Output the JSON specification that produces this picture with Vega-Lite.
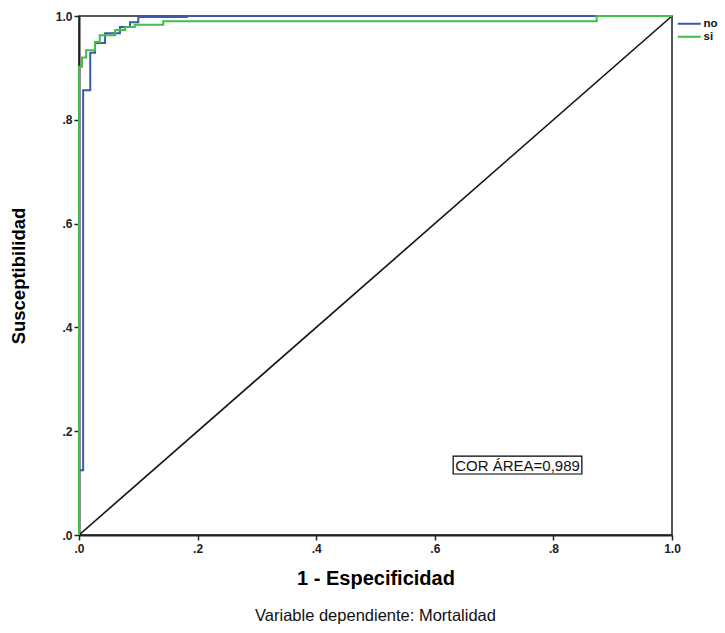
{
  "$schema": "https://vega.github.io/schema/vega-lite/v6.json",
  "width": 593,
  "height": 519,
  "autosize": {"type": "none"},
  "padding": {"left": 79, "top": 16, "right": 53, "bottom": 98},
  "background": "white",
  "config": {
    "font": "Liberation Sans",
    "view": {"stroke": "#222222", "strokeWidth": 1.5},
    "axis": {"grid": false}
  },
  "title": {
    "text": "Variable dependiente: Mortalidad",
    "orient": "bottom",
    "anchor": "middle",
    "fontSize": 16.5,
    "fontWeight": "normal",
    "color": "#111111",
    "offset": 20
  },
  "datasets": {
    "roc": [
      {"grupo": "no", "i": 0, "fpr": 0, "tpr": 0},
      {"grupo": "no", "i": 1, "fpr": 0, "tpr": 0.125},
      {"grupo": "no", "i": 2, "fpr": 0.007, "tpr": 0.125},
      {"grupo": "no", "i": 3, "fpr": 0.007, "tpr": 0.857},
      {"grupo": "no", "i": 4, "fpr": 0.019, "tpr": 0.857},
      {"grupo": "no", "i": 5, "fpr": 0.019, "tpr": 0.929},
      {"grupo": "no", "i": 6, "fpr": 0.027, "tpr": 0.929},
      {"grupo": "no", "i": 7, "fpr": 0.027, "tpr": 0.948},
      {"grupo": "no", "i": 8, "fpr": 0.044, "tpr": 0.948},
      {"grupo": "no", "i": 9, "fpr": 0.044, "tpr": 0.967},
      {"grupo": "no", "i": 10, "fpr": 0.069, "tpr": 0.967},
      {"grupo": "no", "i": 11, "fpr": 0.069, "tpr": 0.979},
      {"grupo": "no", "i": 12, "fpr": 0.086, "tpr": 0.979},
      {"grupo": "no", "i": 13, "fpr": 0.086, "tpr": 0.988},
      {"grupo": "no", "i": 14, "fpr": 0.1, "tpr": 0.988},
      {"grupo": "no", "i": 15, "fpr": 0.1, "tpr": 0.998},
      {"grupo": "no", "i": 16, "fpr": 0.182, "tpr": 0.998},
      {"grupo": "no", "i": 17, "fpr": 0.182, "tpr": 1},
      {"grupo": "no", "i": 18, "fpr": 1, "tpr": 1},
      {"grupo": "si", "i": 0, "fpr": 0, "tpr": 0},
      {"grupo": "si", "i": 1, "fpr": 0, "tpr": 0.902},
      {"grupo": "si", "i": 2, "fpr": 0.005, "tpr": 0.902},
      {"grupo": "si", "i": 3, "fpr": 0.005, "tpr": 0.92},
      {"grupo": "si", "i": 4, "fpr": 0.012, "tpr": 0.92},
      {"grupo": "si", "i": 5, "fpr": 0.012, "tpr": 0.934},
      {"grupo": "si", "i": 6, "fpr": 0.027, "tpr": 0.934},
      {"grupo": "si", "i": 7, "fpr": 0.027, "tpr": 0.95},
      {"grupo": "si", "i": 8, "fpr": 0.035, "tpr": 0.95},
      {"grupo": "si", "i": 9, "fpr": 0.035, "tpr": 0.963},
      {"grupo": "si", "i": 10, "fpr": 0.061, "tpr": 0.963},
      {"grupo": "si", "i": 11, "fpr": 0.061, "tpr": 0.973},
      {"grupo": "si", "i": 12, "fpr": 0.078, "tpr": 0.973},
      {"grupo": "si", "i": 13, "fpr": 0.078, "tpr": 0.979},
      {"grupo": "si", "i": 14, "fpr": 0.094, "tpr": 0.979},
      {"grupo": "si", "i": 15, "fpr": 0.094, "tpr": 0.983},
      {"grupo": "si", "i": 16, "fpr": 0.142, "tpr": 0.983},
      {"grupo": "si", "i": 17, "fpr": 0.142, "tpr": 0.99},
      {"grupo": "si", "i": 18, "fpr": 0.873, "tpr": 0.99},
      {"grupo": "si", "i": 19, "fpr": 0.873, "tpr": 1},
      {"grupo": "si", "i": 20, "fpr": 1, "tpr": 1}
    ],
    "ref": [
      {"fpr": 0, "tpr": 0},
      {"fpr": 1, "tpr": 1}
    ],
    "nota": [
      {"texto": "COR ÁREA=0,989", "x": 0.631, "x2": 0.848, "y": 0.1175, "y2": 0.152, "xc": 0.7395, "yc": 0.135}
    ]
  },
  "layer": [
    {
      "data": {"name": "ref"},
      "mark": {"type": "line", "color": "#111111", "strokeWidth": 1.6},
      "encoding": {
        "x": {
          "field": "fpr", "type": "quantitative",
          "scale": {"domain": [0, 1], "nice": false, "zero": false},
          "axis": {
            "title": "1 - Especificidad",
            "values": [0, 0.2, 0.4, 0.6, 0.8, 1],
            "labelExpr": "replace(format(datum.value, '.1f'), '0.', '.')",
            "labelFontSize": 12,
            "labelFontWeight": "bold",
            "labelColor": "#222222",
            "labelPadding": 3,
            "labelFlush": false,
            "tickSize": 5,
            "tickColor": "#222222",
            "tickWidth": 1.5,
            "domainColor": "#222222",
            "domainWidth": 2,
            "titleFontSize": 20,
            "titleFontWeight": "bold",
            "titleColor": "#000000",
            "titlePadding": 14
          }
        },
        "y": {
          "field": "tpr", "type": "quantitative",
          "scale": {"domain": [0, 1], "nice": false, "zero": false},
          "axis": {
            "title": "Susceptibilidad",
            "values": [0, 0.2, 0.4, 0.6, 0.8, 1],
            "labelExpr": "replace(format(datum.value, '.1f'), '0.', '.')",
            "labelFontSize": 12,
            "labelFontWeight": "bold",
            "labelColor": "#222222",
            "labelPadding": 2,
            "labelFlush": false,
            "tickSize": 5,
            "tickColor": "#222222",
            "tickWidth": 1.5,
            "domainColor": "#222222",
            "domainWidth": 2,
            "titleFontSize": 18.5,
            "titleFontWeight": "bold",
            "titleColor": "#000000",
            "titlePadding": 27
          }
        }
      }
    },
    {
      "data": {"name": "roc"},
      "mark": {"type": "line", "strokeWidth": 2},
      "encoding": {
        "x": {"field": "fpr", "type": "quantitative"},
        "y": {"field": "tpr", "type": "quantitative"},
        "order": {"field": "i", "type": "quantitative"},
        "color": {
          "field": "grupo", "type": "nominal",
          "scale": {"domain": ["no", "si"], "range": ["#3E58AC", "#3FBF4A"]},
          "legend": {
            "title": null,
            "orient": "none",
            "legendX": 604.5,
            "legendY": 2,
            "symbolType": "M-5.75,0H5.75",
            "symbolSize": 16,
            "symbolStrokeWidth": 2,
            "labelFontSize": 11.5,
            "labelFontWeight": "bold",
            "labelColor": "#111111",
            "labelOffset": 8.5,
            "rowPadding": 0,
            "padding": 0
          }
        }
      }
    },
    {
      "data": {"name": "nota"},
      "mark": {"type": "rect", "fill": "white", "stroke": "#000000", "strokeWidth": 1.2},
      "encoding": {
        "x": {"field": "x", "type": "quantitative"},
        "x2": {"field": "x2"},
        "y": {"field": "y", "type": "quantitative"},
        "y2": {"field": "y2"}
      }
    },
    {
      "data": {"name": "nota"},
      "mark": {"type": "text", "fontSize": 15, "color": "#111111", "align": "center", "baseline": "middle", "dy": 1},
      "encoding": {
        "x": {"field": "xc", "type": "quantitative"},
        "y": {"field": "yc", "type": "quantitative"},
        "text": {"field": "texto"}
      }
    }
  ]
}
